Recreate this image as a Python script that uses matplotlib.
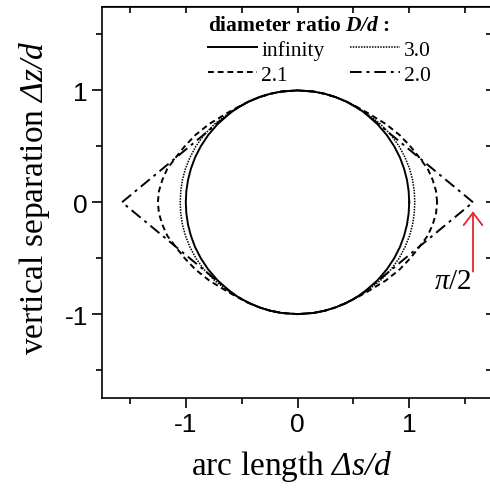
import numpy as np
import matplotlib
matplotlib.use('Agg')
import matplotlib.pyplot as plt
from matplotlib.ticker import MultipleLocator

plt.rcParams['axes.unicode_minus'] = False
plt.rcParams['mathtext.fontset'] = 'custom'
plt.rcParams['mathtext.rm'] = 'Liberation Serif:italic'
plt.rcParams['mathtext.it'] = 'Liberation Serif:italic'
plt.rcParams['mathtext.bf'] = 'Liberation Serif:bold:italic'
plt.rcParams['mathtext.bfit'] = 'Liberation Serif:bold:italic'

# upper right quarter of each contact curve: half arc length s at height z
z_inf = [0, 0.1, 0.2, 0.3, 0.4, 0.5, 0.6, 0.7, 0.8, 0.85, 0.9, 0.94, 0.97, 0.99, 1.0]
s_inf = [1.000, 0.995, 0.980, 0.954, 0.917, 0.866, 0.800, 0.714, 0.600, 0.527, 0.436, 0.341, 0.243, 0.141, 0]

z_30 = [0, 0.1, 0.2, 0.3, 0.4, 0.5, 0.6, 0.7, 0.8, 0.85, 0.9, 0.94, 0.97, 0.99, 1.0]
s_30 = [1.050, 1.045, 1.030, 1.003, 0.963, 0.910, 0.838, 0.742, 0.612, 0.532, 0.438, 0.341, 0.243, 0.141, 0]

z_21 = [0, 0.1, 0.2, 0.3, 0.4, 0.5, 0.6, 0.7, 0.8, 0.85, 0.9, 0.94, 0.97, 0.99, 1.0]
s_21 = [1.250, 1.240, 1.210, 1.165, 1.090, 1.010, 0.915, 0.790, 0.625, 0.535, 0.438, 0.341, 0.243, 0.141, 0]

z_20 = [0, 0.771, 0.8, 0.85, 0.9, 0.94, 0.97, 0.99, 1.0]
s_20 = [1.571, 0.637, 0.600, 0.527, 0.436, 0.341, 0.243, 0.141, 0]

labels = ['infinity', '2.1', '3.0', '2.0']


def closed(s, z):
    s = np.array(s)
    z = np.array(z)
    x = np.concatenate([s, -s[::-1], -s, s[::-1]])
    y = np.concatenate([z, z[::-1], -z, -z[::-1]])
    return x, y


fig = plt.figure(figsize=(4.9, 4.89), dpi=100)
ax = fig.add_axes([102 / 490, 90 / 489, 391 / 490, 391.5 / 489])

x, y = closed(s_inf, z_inf)
ax.plot(x, y, color='black', lw=1.4, label=labels[0])
x, y = closed(s_21, z_21)
ax.plot(x, y, color='black', lw=1.4, dashes=(3, 2), label=labels[1])
x, y = closed(s_30, z_30)
ax.plot(x, y, color='black', lw=1.1, dashes=(1, 0.8), label=labels[2])
x, y = closed(s_20, z_20)
ax.plot(x, y, color='black', lw=1.4, dashes=(6, 2.5, 1.5, 2.5), label=labels[3])

ax.set_xlim(-1.75, 1.75)
ax.set_ylim(-1.75, 1.75)
ax.xaxis.set_major_locator(MultipleLocator(1))
ax.xaxis.set_minor_locator(MultipleLocator(0.5))
ax.yaxis.set_major_locator(MultipleLocator(1))
ax.yaxis.set_minor_locator(MultipleLocator(0.5))
ax.tick_params(which='major', direction='out', length=7, width=1.2,
               labelsize=19, labelfontfamily='Liberation Sans', pad=3)
ax.tick_params(which='minor', direction='out', length=4, width=1.2)
for sp in ax.spines.values():
    sp.set_linewidth(1.2)

# inward ticks on top and right
top = ax.secondary_xaxis('top')
top.xaxis.set_major_locator(MultipleLocator(1))
top.xaxis.set_minor_locator(MultipleLocator(0.5))
top.tick_params(which='both', direction='in', length=5, width=1.2, labeltop=False)
right = ax.secondary_yaxis('right')
right.yaxis.set_major_locator(MultipleLocator(1))
right.yaxis.set_minor_locator(MultipleLocator(0.5))
right.tick_params(which='both', direction='in', length=5, width=1.2, labelright=False)

ax.set_xlabel(r'arc length $\Delta s/d$', fontsize=24, family='Liberation Serif')
ax.set_ylabel(r'vertical separation $\Delta z/d$', fontsize=24, family='Liberation Serif')
ax.xaxis.set_label_coords(0.485, -0.128)
ax.yaxis.set_label_coords(-0.128, 0.515)

leg = ax.legend(ncol=2, loc='upper left', bbox_to_anchor=(0.27, 0.978), frameon=False,
                title=r'diameter ratio $\mathbf{D/d}$ :', alignment='left',
                prop={'family': 'Liberation Serif', 'size': 15.5},
                handlelength=2.3, handletextpad=0.2, columnspacing=1.2,
                labelspacing=0.22, borderpad=0, borderaxespad=0)
leg.get_title().set_fontfamily('Liberation Serif')
leg.get_title().set_fontweight('bold')
leg.get_title().set_fontsize(15.5)

ax.annotate('', xy=(1.571, -0.08), xytext=(1.571, -0.62),
            arrowprops=dict(arrowstyle='->,head_width=0.45,head_length=0.6', color='#e8262c',
                            lw=1.3, mutation_scale=15, shrinkA=0, shrinkB=0))
ax.text(1.39, -0.70, r'$\pi$/2', fontsize=21, family='Liberation Serif', ha='center', va='center')

fig.savefig('out.png', dpi=100)
